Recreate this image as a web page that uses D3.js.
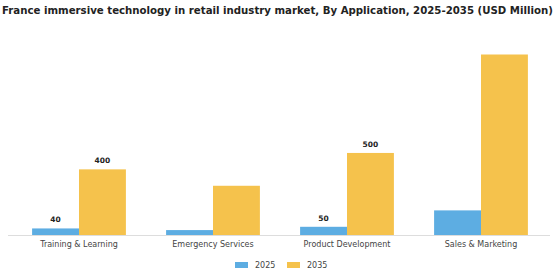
<!DOCTYPE html>
<html>
<head>
<meta charset="utf-8">
<script src="https://cdn.jsdelivr.net/npm/d3@7"></script>
<style>
  body { margin: 0; background: #fff; }
  text { font-family: "DejaVu Sans", sans-serif; }
</style>
</head>
<body>
<svg id="chart" width="560" height="280"></svg>
<script>
const categories = ["Training & Learning", "Emergency Services", "Product Development", "Sales & Marketing"];
const years = ["2025", "2035"];
const values2025 = [40, 30, 50, 150];
const values2035 = [400, 300, 500, 1100];
// only some bars carry a value label in the original
const labels2025 = ["40", null, "50", null];
const labels2035 = ["400", null, "500", null];
const colors = ["#5DADE2", "#F5C24C"];

const width = 560, height = 280;
const margin = { top: 40, right: 12, bottom: 45, left: 12 };
const svg = d3.select("#chart");

const title = svg.append("text")
    .attr("x", 2).attr("y", 14)
    .attr("font-size", 10).attr("font-weight", "bold").attr("fill", "#222")
    .text("France immersive technology in retail industry market, By Application, 2025-2035 (USD Million)");
// fit the title to the width it takes in the original
const tw = title.node().getComputedTextLength();
title.attr("font-size", 10 * 551 / tw);

const x = d3.scaleBand().domain(categories)
    .range([margin.left, width - margin.right])
    .paddingInner(0.3).paddingOuter(0.15);
const xs = d3.scaleBand().domain(years).range([0, x.bandwidth()]);
const y = d3.scaleLinear().domain([0, 1100]).range([height - margin.bottom, 54.5]);

const series = [values2025, values2035];
const labels = [labels2025, labels2035];

const rows = categories.map((c, i) => years.map((yr, j) => ({
    cat: c, year: yr, j, value: series[j][i], label: labels[j][i]
})));

const g = svg.append("g");
const groups = g.selectAll("g.cat").data(rows).join("g")
    .attr("transform", (d, i) => `translate(${x(categories[i])},0)`);

groups.selectAll("rect").data(d => d).join("rect")
    .attr("x", d => xs(d.year))
    .attr("y", d => y(d.value))
    .attr("width", xs.bandwidth())
    .attr("height", d => y(0) - y(d.value))
    .attr("fill", d => colors[d.j]);

groups.selectAll("text.val").data(d => d.filter(e => e.label)).join("text")
    .attr("class", "val")
    .attr("x", d => xs(d.year) + xs.bandwidth() / 2)
    .attr("y", d => y(d.value) - 6)
    .attr("text-anchor", "middle")
    .attr("font-size", 7.5).attr("font-weight", "bold").attr("fill", "#222")
    .text(d => d.label);

const xAxis = svg.append("g")
    .attr("transform", `translate(0,${y(0)})`)
    .call(d3.axisBottom(x).tickSize(0).tickPadding(6));
xAxis.select(".domain").attr("stroke", "#ddd").attr("d", `M${margin.left - 4},0.5H${width - margin.right + 2}`);
xAxis.selectAll("text").attr("font-size", 8).attr("fill", "#444")
    .attr("font-family", "DejaVu Sans, sans-serif");

const legend = svg.append("g").attr("transform", "translate(235,265)");
years.forEach((yr, j) => {
    const lg = legend.append("g").attr("transform", `translate(${j * 52},0)`);
    lg.append("rect").attr("x", 0).attr("y", -3).attr("width", 13).attr("height", 6)
        .attr("fill", colors[j]);
    lg.append("text").attr("x", 20).attr("y", 3)
        .attr("font-size", 8).attr("fill", "#444").text(yr);
});
</script>
</body>
</html>
